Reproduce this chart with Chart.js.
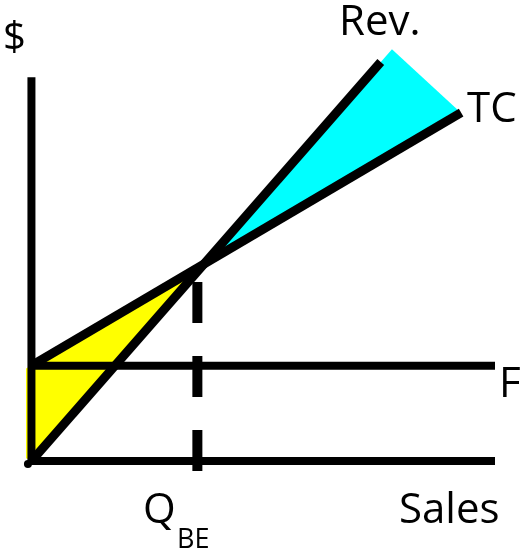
<!DOCTYPE html>
<html>
<head>
<meta charset="utf-8">
<script src="https://cdn.jsdelivr.net/npm/chart.js@4.4.1/dist/chart.umd.min.js"></script>
<style>
html,body{margin:0;padding:0;background:#fff;}
#wrap{width:524px;height:548px;}
</style>
</head>
<body>
<div id="wrap"><canvas id="c" width="524" height="548"></canvas></div>
<script>
// ---- data (sales quantity Q, dollars $) ----
const axisQ = [-0.2, 26.54];          // horizontal (sales) axis extent
const axisDollar = [-3, 402];         // vertical ($) axis extent
const fixedCost = 100;                // F
const fixedQ = [0, 26.54];
const revQ = [0, 20.0];
const revValues = [0, 418];
const tcQ = [0, 24.6];
const tcValues = [100, 365];
const breakEvenQ = 9.88;
const breakEvenValue = 206.5;
const qbeMarkQ = 9.5;
const qbeMarkValues = [-10.4, 187.6];
const profitQ = [breakEvenQ, 20.64, 24.4];
const profitValues = [breakEvenValue, 431.5, 368];
const lossQ = [-0.31, breakEvenQ, 0, -0.31];
const lossValues = [97, breakEvenValue, 0, 3];
const originQ = [-0.2];
const originValues = [-3];

const labels = [
  {text: '$', x: 3, y: 50, size: 40},
  {text: 'Rev.', x: 339, y: 35, size: 42},
  {text: 'TC', x: 467, y: 122, size: 42},
  {text: 'F', x: 499, y: 397, size: 42},
  {text: 'Q', x: 143, y: 523, size: 42},
  {text: 'BE', x: 177, y: 548, size: 27},
  {text: 'Sales', x: 399, y: 523, size: 42}
];

const pts = (xs, ys) => xs.map((x, i) => ({x: x, y: ys[i]}));

const textPlugin = {
  id: 'texts',
  afterDraw(chart) {
    const ctx = chart.ctx;
    ctx.save();
    ctx.fillStyle = '#000';
    ctx.textBaseline = 'alphabetic';
    ctx.textAlign = 'left';
    labels.forEach(l => {
      ctx.font = l.size + 'px "Open Sans", "Noto Sans", sans-serif';
      ctx.fillText(l.text, l.x, l.y);
    });
    ctx.restore();
  }
};

const black = '#000';
const lineDefaults = {showLine: true, pointRadius: 0, borderColor: black, fill: false, borderCapStyle: 'butt', tension: 0};

new Chart(document.getElementById('c'), {
  type: 'scatter',
  data: {
    datasets: [
      {label: 'origin', data: pts(originQ, originValues), showLine: false, pointRadius: 4, pointBorderWidth: 0, backgroundColor: black, borderColor: black},
      Object.assign({}, lineDefaults, {label: 'Rev', data: pts(revQ, revValues), borderWidth: 9}),
      Object.assign({}, lineDefaults, {label: 'TC', data: pts(tcQ, tcValues), borderWidth: 9}),
      Object.assign({}, lineDefaults, {label: 'QBE', data: pts([qbeMarkQ, qbeMarkQ], qbeMarkValues), borderWidth: 10, borderDash: [41, 33]}),
      Object.assign({}, lineDefaults, {label: 'F', data: pts(fixedQ, [fixedCost, fixedCost]), borderWidth: 8}),
      Object.assign({}, lineDefaults, {label: 'xaxis', data: pts(axisQ, [0, 0]), borderWidth: 8}),
      Object.assign({}, lineDefaults, {label: 'yaxis', data: pts([0, 0], axisDollar), borderWidth: 8}),
      Object.assign({}, lineDefaults, {label: 'profit', data: pts(profitQ, profitValues), borderWidth: 0, borderColor: 'rgba(0,0,0,0)', backgroundColor: '#00ffff', fill: 'shape'}),
      Object.assign({}, lineDefaults, {label: 'loss', data: pts(lossQ, lossValues), borderWidth: 0, borderColor: 'rgba(0,0,0,0)', backgroundColor: '#ffff00', fill: 'shape'})
    ]
  },
  options: {
    responsive: false,
    animation: false,
    layout: {padding: 0, autoPadding: false},
    plugins: {legend: {display: false}, tooltip: {enabled: false}},
    scales: {
      x: {type: 'linear', min: -1.8, max: 28.2, display: false},
      y: {type: 'linear', min: -91, max: 483, display: false}
    }
  },
  plugins: [textPlugin]
});
</script>
</body>
</html>
